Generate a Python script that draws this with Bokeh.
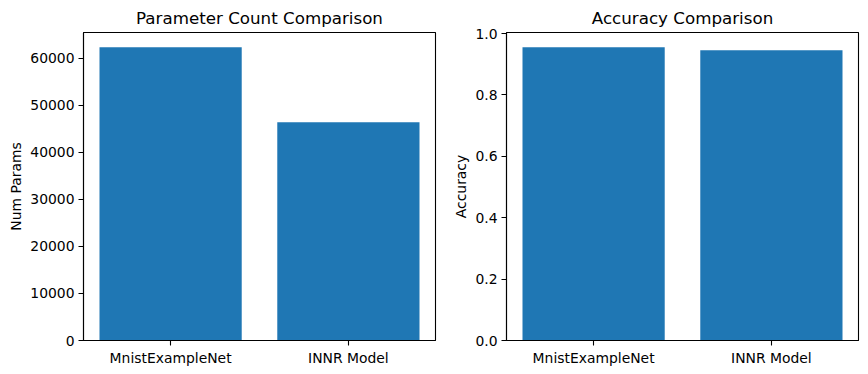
from bokeh.plotting import figure
from bokeh.layouts import row
from bokeh.models import Range1d, FixedTicker, NumeralTickFormatter
from bokeh.embed import file_html
from bokeh.resources import INLINE

models = ["MnistExampleNet", "INNR Model"]
num_params = [62410, 46420]
accuracy = [0.9555, 0.9458]
param_ticks = [0, 10000, 20000, 30000, 40000, 50000, 60000]
acc_ticks = [0.0, 0.2, 0.4, 0.6, 0.8, 1.0]

FONT = "DejaVu Sans"
BAR = "#1f77b4"


def make(values, title, ylabel, ticks, border_left, border_right, fmt=None):
    xs = list(range(len(models)))
    p = figure(output_backend="svg", toolbar_location=None,
               frame_width=352, frame_height=308,
               min_border_left=border_left, min_border_right=border_right,
               min_border_top=32, min_border_bottom=32,
               x_range=Range1d(-0.49, len(models) - 1 + 0.49),
               y_range=Range1d(0, max(values) * 1.05),
               title=title)
    p.vbar(x=xs, top=values, width=0.8, color=BAR, line_color=None)
    p.title.align = "center"
    p.title.text_font = FONT
    p.title.text_font_size = "16.7px"
    p.title.text_font_style = "normal"
    p.title.text_color = "black"
    p.title.standoff = 9
    p.xgrid.visible = False
    p.ygrid.visible = False
    p.outline_line_color = "black"
    p.outline_line_width = 1.1
    p.outline_line_alpha = 1
    p.background_fill_color = "white"
    p.border_fill_color = "white"
    p.xaxis.ticker = FixedTicker(ticks=xs)
    p.xaxis.major_label_overrides = {i: m for i, m in enumerate(models)}
    p.yaxis.ticker = FixedTicker(ticks=ticks)
    if fmt:
        p.yaxis.formatter = NumeralTickFormatter(format=fmt)
    p.yaxis.axis_label = ylabel
    for ax in (p.xaxis[0], p.yaxis[0]):
        ax.major_tick_in = 0
        ax.major_tick_out = 5
        ax.minor_tick_in = 0
        ax.minor_tick_out = 0
        ax.major_tick_line_color = "black"
        ax.major_tick_line_width = 1.1
        ax.axis_line_color = "black"
        ax.axis_line_width = 1.1
        ax.major_label_text_font = FONT
        ax.major_label_text_font_size = "13.9px"
        ax.major_label_text_color = "black"
        ax.major_label_standoff = 4
        ax.axis_label_text_font = FONT
        ax.axis_label_text_font_size = "13.9px"
        ax.axis_label_text_font_style = "normal"
        ax.axis_label_text_color = "black"
        ax.axis_label_standoff = 3
    return p


p1 = make(num_params, "Parameter Count Comparison", "Num Params", param_ticks, 83, 10)
p2 = make(accuracy, "Accuracy Comparison", "Accuracy", acc_ticks, 61, 8, fmt="0.0")

layout = row(p1, p2, spacing=0)
open("out.html", "w").write(file_html(layout, INLINE))
